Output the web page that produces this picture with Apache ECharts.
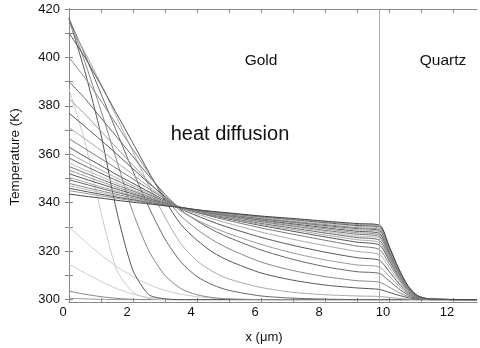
<!DOCTYPE html>
<html>
<head>
<meta charset="utf-8">
<script src="https://cdn.jsdelivr.net/npm/echarts@6/dist/echarts.min.js"></script>
<style>
  html, body { margin: 0; background: #fff; }
  #chart { width: 480px; height: 348px; }
</style>
</head>
<body>
<div id="chart"></div>
<script>
// depth samples (um)
const xs = [0, 0.5, 1, 1.5, 2, 2.5, 3, 3.5, 4, 4.5, 5, 6, 7, 8, 9, 9.7, 10, 10.3, 10.6, 10.9, 11.3, 12.75];
const interfaceX = 9.7;

const xTicks = [0, 1, 2, 3, 4, 5, 6, 7, 8, 9, 10, 11, 12];
const xLabels = [0, 2, 4, 6, 8, 10, 12];
const yTicks = [300, 310, 320, 330, 340, 350, 360, 370, 380, 390, 400, 410, 420];
const yLabels = [300, 320, 340, 360, 380, 400, 420];

// temperature profiles (K), one per time step
// early heating
const p01 = [300.5, 300.3, 300.1, 300, 300, 300, 300, 300, 300, 300, 300, 300, 300, 300, 300, 300, 300, 300, 300, 300, 300, 300];
const p02 = [303.5, 302.2, 301.2, 300.5, 300.1, 300, 300, 300, 300, 300, 300, 300, 300, 300, 300, 300, 300, 300, 300, 300, 300, 300];
const p03 = [314.6, 311, 307.5, 304.5, 302.3, 300.8, 300.2, 300, 300, 300, 300, 300, 300, 300, 300, 300, 300, 300, 300, 300, 300, 300];
const p04 = [330, 324, 318.5, 313.5, 309.5, 306.2, 303.8, 302.2, 301.2, 300.6, 300.2, 300, 300, 300, 300, 300, 300, 300, 300, 300, 300, 300];
const p05 = [387, 365, 336, 312, 303, 300.5, 300, 300, 300, 300, 300, 300, 300, 300, 300, 300, 300, 300, 300, 300, 300, 300];
// fronts moving in from the hot surface
const p06 = [416, 394, 368, 336, 312, 302, 300.3, 300, 300, 300, 300, 300, 300, 300, 300, 300, 300, 300, 300, 300, 300, 300];
const p07 = [416, 398, 378, 357, 336, 320, 310, 304.5, 302, 300.8, 300.3, 300, 300, 300, 300, 300, 300, 300, 300, 300, 300, 300];
const p08 = [416, 401, 385, 369, 353, 338, 325, 315.5, 309.5, 306, 303.8, 301.5, 300.6, 300.2, 300, 300, 300, 300, 300, 300, 300, 300];
const p09 = [414, 402, 389, 375, 361, 347, 334, 323, 316, 311.5, 308.5, 305, 303, 302, 301.5, 301.3, 300.9, 300.5, 300.2, 300.1, 300, 300];
const p10 = [410, 400, 388.5, 376.5, 364.5, 352.5, 341, 331, 324.5, 319.5, 316, 311, 308, 306, 304.8, 304.2, 303.0, 301.8, 300.8, 300.2, 300, 300];
const p11 = [400, 391.5, 382, 372, 362, 352, 342.5, 334.5, 329, 324.5, 321, 315.5, 312, 309.5, 307.8, 307.2, 305.2, 303.0, 301.3, 300.4, 300, 300];
const p12 = [390, 383, 375, 367, 359, 351, 343.5, 337, 332.5, 328.7, 325.6, 320.5, 316.6, 313.6, 311.5, 310.8, 307.8, 304.5, 301.9, 300.5, 300.1, 300];
const p13 = [383, 376.5, 369.5, 362.5, 355.5, 348.5, 342, 336.5, 332.8, 329.8, 327.2, 322.8, 319.2, 316.4, 314.3, 313.5, 309.7, 305.7, 302.4, 300.7, 300.1, 300];
const p14 = [377, 371.5, 365.8, 360, 354, 348, 342.5, 337.5, 334.6, 332, 329.7, 325.7, 322.4, 319.6, 317.3, 316.2, 311.7, 306.8, 302.9, 300.8, 300.1, 300];
const p15 = [371, 366.4, 361.6, 356.6, 351.6, 346.6, 342, 337.8, 335.4, 333.3, 331.4, 327.9, 324.9, 322.3, 319.9, 318.6, 313.4, 307.8, 303.3, 300.9, 300.1, 300];
const p16 = [366.5, 362.3, 358.2, 354, 349.8, 345.7, 341.6, 338, 336, 334.2, 332.6, 329.6, 327, 324.5, 322.1, 320.7, 314.9, 308.7, 303.7, 301.0, 300.1, 300];
// late cooling, all through the crossing near x = 3.45
const p17 = [363, 359.0, 355.3, 351.5, 348.0, 344.5, 341.0, 338, 336.1, 334.6, 333.2, 330.6, 328.2, 325.9, 323.7, 322.5, 316.2, 309.5, 304.1, 301.1, 300.1, 300];
const p18 = [360.5, 356.9, 353.5, 350.2, 347.0, 343.9, 340.7, 338, 336.3, 334.8, 333.5, 331.0, 328.9, 326.7, 324.7, 323.5, 316.9, 309.9, 304.2, 301.2, 300.1, 300];
const p19 = [358.5, 355.2, 352.1, 349.1, 346.2, 343.3, 340.5, 338, 336.4, 335.0, 333.8, 331.5, 329.5, 327.5, 325.6, 324.5, 317.6, 310.3, 304.4, 301.2, 300.1, 300];
const p20 = [356.5, 353.5, 350.8, 348.0, 345.4, 342.8, 340.2, 338, 336.5, 335.2, 334.1, 331.9, 330.0, 328.1, 326.3, 325.3, 318.2, 310.6, 304.6, 301.3, 300.1, 300];
const p21 = [355, 352.3, 349.7, 347.2, 344.8, 342.4, 340.0, 338, 336.6, 335.4, 334.3, 332.2, 330.4, 328.6, 327.0, 326, 318.7, 310.9, 304.7, 301.3, 300.1, 300];
const p22 = [353.5, 351.0, 348.7, 346.4, 344.2, 342.0, 339.9, 338, 336.6, 335.5, 334.5, 332.6, 330.9, 329.2, 327.6, 326.7, 319.2, 311.2, 304.8, 301.3, 300.1, 300];
const p23 = [352, 349.8, 347.7, 345.6, 343.6, 341.6, 339.7, 338, 336.7, 335.6, 334.7, 332.9, 331.3, 329.7, 328.2, 327.3, 319.7, 311.5, 304.9, 301.4, 300.1, 300];
const p24 = [350.5, 348.5, 346.6, 344.8, 343.0, 341.3, 339.5, 338, 336.8, 335.8, 334.9, 333.2, 331.7, 330.2, 328.8, 328, 320.2, 311.8, 305.0, 301.4, 300.1, 300];
const p25 = [349.5, 347.7, 345.9, 344.2, 342.6, 341.0, 339.4, 338, 336.9, 335.9, 335.1, 333.4, 332.0, 330.6, 329.3, 328.5, 320.5, 312.0, 305.1, 301.4, 300.1, 300];
const p26 = [348, 346.4, 344.9, 343.4, 342.0, 340.6, 339.2, 338, 336.9, 336.0, 335.2, 333.7, 332.3, 331.0, 329.7, 329, 320.9, 312.2, 305.2, 301.5, 300.1, 300];
const p27 = [347, 345.6, 344.2, 342.9, 341.6, 340.3, 339.1, 338, 337.0, 336.1, 335.4, 333.9, 332.6, 331.4, 330.2, 329.5, 321.2, 312.4, 305.3, 301.5, 300.1, 300];
const p28 = [346, 344.7, 343.5, 342.3, 341.2, 340.1, 339.0, 338, 337.0, 336.2, 335.5, 334.2, 333.0, 331.8, 330.6, 330, 321.6, 312.6, 305.4, 301.5, 300.2, 300];
const p29 = [345, 343.9, 342.8, 341.8, 340.8, 339.8, 338.8, 338, 337.1, 336.3, 335.6, 334.4, 333.2, 332.1, 331.0, 330.4, 321.9, 312.8, 305.5, 301.5, 300.2, 300];
const p30 = [343.6, 342.7, 341.9, 341.0, 340.2, 339.5, 338.7, 338.0, 337.1, 336.4, 335.8, 334.5, 333.5, 332.4, 331.4, 330.8, 322.2, 312.9, 305.5, 301.5, 300.2, 300];

const profiles = [p01, p02, p03, p04, p05, p06, p07, p08, p09, p10, p11, p12, p13, p14, p15,
  p16, p17, p18, p19, p20, p21, p22, p23, p24, p25, p26, p27, p28, p29, p30];

// grey level of each curve
const greys = ['#999', '#888', '#ccc', '#ccc', '#ccc',
  '#555', '#888', '#666', '#aaa', '#555', '#888', '#666', '#999', '#555', '#aaa', '#777',
  '#555', '#aaa', '#666', '#bbb', '#777', '#999', '#555', '#aaa', '#666', '#888',
  '#bbb', '#555', '#999', '#444'];

const font = 'Liberation Sans';
const frame = '#888';

let myChart = echarts.init(document.getElementById('chart'));

let series = profiles.map((p, i) => ({
  type: 'line',
  data: xs.map((x, j) => [x, p[j]]),
  showSymbol: false,
  smooth: 0.25,
  silent: true,
  lineStyle: { width: 1, color: greys[i] }
}));
series[0].markLine = {
  silent: true,
  symbol: 'none',
  label: { show: false },
  lineStyle: { color: '#aaa', width: 1, type: 'solid' },
  data: [{ xAxis: interfaceX }]
};

myChart.setOption({
  animation: false,
  backgroundColor: '#fff',
  grid: { left: 69, right: 3, top: 9, bottom: 46 },
  xAxis: [
    {
      type: 'value', min: 0, max: 12.75, position: 'bottom',
      axisLine: { show: true, lineStyle: { color: frame } },
      axisTick: { show: true, inside: true, length: 4, customValues: xTicks, lineStyle: { color: frame } },
      axisLabel: { customValues: xLabels, margin: 4, color: '#111', fontSize: 13, fontFamily: font, padding: [0, 12, 0, 0] },
      splitLine: { show: false }
    },
    {
      type: 'value', min: 0, max: 12.75, position: 'top',
      axisLine: { show: true, lineStyle: { color: frame } },
      axisTick: { show: true, inside: true, length: 4, customValues: xTicks, lineStyle: { color: frame } },
      axisLabel: { show: false },
      splitLine: { show: false }
    }
  ],
  yAxis: [
    {
      type: 'value', min: 299, max: 420, position: 'left',
      axisLine: { show: true, lineStyle: { color: frame } },
      axisTick: { show: true, inside: true, length: 4, customValues: yTicks, lineStyle: { color: frame } },
      axisLabel: { customValues: yLabels, margin: 9, color: '#111', fontSize: 13, fontFamily: font, padding: [0, 0, 7, 0] },
      splitLine: { show: false }
    },
    {
      type: 'value', min: 299, max: 420, position: 'right',
      axisLine: { show: true, lineStyle: { color: frame } },
      axisTick: { show: true, inside: true, length: 4, customValues: yTicks, lineStyle: { color: frame } },
      axisLabel: { show: false },
      splitLine: { show: false }
    }
  ],
  graphic: [
    { type: 'text', x: 261, y: 61, style: { text: 'Gold', fontSize: 15.5, fontFamily: font, fill: '#111', align: 'center', verticalAlign: 'middle' } },
    { type: 'text', x: 443, y: 61, style: { text: 'Quartz', fontSize: 15.5, fontFamily: font, fill: '#111', align: 'center', verticalAlign: 'middle' } },
    { type: 'text', x: 230, y: 134, style: { text: 'heat diffusion', fontSize: 20, fontFamily: font, fill: '#111', align: 'center', verticalAlign: 'middle' } },
    { type: 'text', x: 264, y: 337, style: { text: 'x (μm)', fontSize: 13, fontFamily: font, fill: '#111', align: 'center', verticalAlign: 'middle' } },
    { type: 'text', x: 15, y: 157, rotation: Math.PI / 2, style: { text: 'Temperature (K)', fontSize: 13.5, fontFamily: font, fill: '#111', align: 'center', verticalAlign: 'middle' } }
  ],
  series: series
});
</script>
</body>
</html>
